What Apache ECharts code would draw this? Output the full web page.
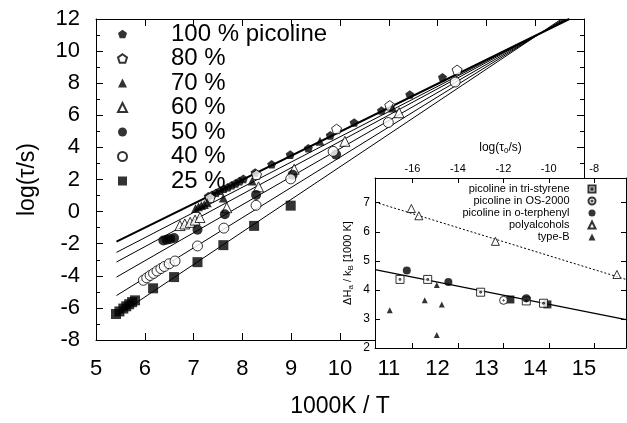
<!DOCTYPE html>
<html><head><meta charset="utf-8">
<script src="https://cdn.jsdelivr.net/npm/echarts@6/dist/echarts.min.js"></script>
<style>html,body{margin:0;padding:0;background:#fff}#c{width:627px;height:423px}</style>
</head><body><div id="c"></div>
<script>
const FONT = 'Liberation Sans, Arial, Helvetica, sans-serif';

// ---------- main plot data: [1000K/T, log(tau/s)] ----------
const seriesNames = ['100 % picoline', '80 %', '70 %', '60 %', '50 %', '40 %', '25 %'];
const pic100 = [[7.30,0.95],[7.38,1.05],[7.46,1.17],[7.54,1.30],[7.62,1.42],[7.70,1.52],[7.78,1.64],[7.86,1.76],[7.94,1.90],[8.02,2.04],[8.26,2.44],[8.60,2.95],[8.98,3.55],[9.35,3.95],[9.80,4.75],[10.29,5.55],[10.85,6.30],[11.43,7.30],[12.10,8.37]];
const pic80 = [[7.34,0.87],[8.29,2.30],[9.93,5.15],[11.02,6.62],[12.40,8.83]];
const pic70 = [[7.04,0.20],[7.10,0.30],[7.16,0.38],[7.22,0.45],[7.28,0.55],[7.61,0.85],[8.20,1.90],[9.59,4.38],[11.08,6.46]];
const pic60 = [[6.72,-0.87],[6.82,-0.77],[6.93,-0.67],[7.03,-0.53],[7.13,-0.37],[7.68,0.24],[8.33,1.54],[9.06,2.64],[10.10,4.38],[11.21,6.16]];
const pic50 = [[6.38,-1.80],[6.45,-1.75],[6.52,-1.70],[6.60,-1.65],[7.08,-1.13],[7.64,-0.17],[8.28,1.04],[9.03,2.30],[9.92,3.55]];
const pic40 = [[5.97,-4.28],[6.04,-4.13],[6.11,-3.98],[6.18,-3.85],[6.25,-3.70],[6.33,-3.55],[6.40,-3.42],[6.50,-3.25],[6.62,-3.08],[7.08,-2.14],[7.62,-1.03],[8.28,0.39],[8.99,2.04],[9.86,3.75],[10.99,5.55],[12.36,8.07]];
const pic25 = [[5.41,-6.38],[5.48,-6.22],[5.56,-6.04],[5.62,-5.90],[5.68,-5.77],[5.74,-5.64],[5.80,-5.53],[6.17,-4.78],[6.60,-4.08],[7.08,-3.15],[7.61,-2.09],[8.24,-0.89],[8.99,0.37]];

// fit lines (end points)
const fit100 = [[5.42,-1.87],[14.70,12]];
const fit70 = [[5.42,-2.54],[14.67,12]];
const fit60 = [[5.42,-3.14],[14.65,12]];
const fit50 = [[5.42,-4.08],[14.62,12]];
const fit40 = [[5.42,-5.23],[14.58,12]];
const fit25 = [[5.42,-6.50],[14.54,12]];

// ---------- inset data: [log(tau0/s), dHa/kB (1000 K)] ----------
const insetNames = ['picoline in tri-styrene', 'picoline in OS-2000', 'picoline in o-terphenyl', 'polyalcohols', 'type-B'];
const triStyrene = [[-16.55,4.36],[-15.33,4.36],[-13.0,3.92],[-10.99,3.62],[-10.23,3.54]];
const os2000 = [[-11.99,3.64]];
const oTerphenyl = [[-16.25,4.67],[-14.42,4.27],[-10.99,3.71]];
const polyalcohols = [[-16.05,6.80],[-15.72,6.55],[-12.35,5.67],[-7.0,4.53]];
const typeB = [[-17.0,3.30],[-15.46,3.64],[-14.93,4.17],[-14.71,3.50],[-14.93,2.45]];
const extraSquares = [[-11.69,3.67],[-10.06,3.50]];
const insetSolidFit = [[-17.65,4.70],[-6.6,2.98]];
const insetDashFit = [[-17.65,7.02],[-6.6,4.36]];
const insetXTicks = [-16,-14,-12,-10,-8];
const insetYTicks = [2,3,4,5,6,7];

const PENT = 'path://M0,-1L0.951,-0.309L0.588,0.809L-0.588,0.809L-0.951,-0.309Z';
const SQDOT = 'path://M0,0L10,0L10,10L0,10Z M4,4L6,4L6,6L4,6Z';
const CIRDOT = 'path://M0,5A5,5,0,1,1,10,5A5,5,0,1,1,0,5Z M4.2,5A0.8,0.8,0,1,1,5.8,5A0.8,0.8,0,1,1,4.2,5Z';

const filled = {color:'#000'};
const open = {color:'#fff', borderColor:'#000', borderWidth:1};

function sc(name, data, symbol, size, style, xi, yi, z) {
  return {type:'scatter', name, data, symbol, symbolSize:size, itemStyle:style, symbolKeepAspect:true,
    xAxisIndex:xi, yAxisIndex:yi, z:z, silent:true, animation:false};
}
function ln(data, width, type, xi, yi, z) {
  return {type:'line', data, symbol:'none', lineStyle:{color:'#000', width, type},
    xAxisIndex:xi, yAxisIndex:yi, z:z, silent:true, animation:false, clip:true};
}

const axisCommon = {
  axisLine:{show:true, onZero:false, lineStyle:{color:'#000', width:1}},
  splitLine:{show:false}
};

const chart = echarts.init(document.getElementById('c'));
chart.setOption({
  animation:false,
  textStyle:{fontFamily:FONT},
  grid:[
    {left:96, top:19, right:43, bottom:71},
    {left:375, top:178, right:1, bottom:75, show:true, backgroundColor:'#fff', borderWidth:0, z:10}
  ],
  xAxis:[
    Object.assign({type:'value', gridIndex:0, position:'bottom', min:5, max:15, interval:1,
      name:'1000K / T', nameLocation:'middle', nameGap:55,
      nameTextStyle:{fontSize:23, color:'#000', fontFamily:FONT},
      axisTick:{show:true, inside:true, length:7, lineStyle:{color:'#000'}},
      axisLabel:{fontSize:22, color:'#000', margin:18, fontFamily:FONT}}, axisCommon),
    Object.assign({type:'value', gridIndex:0, position:'top', min:5, max:15, interval:1,
      axisTick:{show:true, inside:true, length:7, lineStyle:{color:'#000'}},
      axisLabel:{show:false}}, axisCommon),
    Object.assign({type:'value', gridIndex:1, position:'top', min:-17.65, max:-6.6, z:11,
      name:'{a|log(τ}{s|0}{a|/s)}', nameLocation:'middle', nameGap:23,
      nameTextStyle:{color:'#000', rich:{a:{fontSize:12, fontFamily:FONT, color:'#000'}, s:{fontSize:8, fontFamily:FONT, color:'#000', padding:[7,0,0,0]}}},
      axisTick:{show:true, inside:true, length:5, customValues:insetXTicks, lineStyle:{color:'#000'}},
      axisLabel:{fontSize:11, color:'#000', margin:4, customValues:insetXTicks, fontFamily:FONT}}, axisCommon),
    Object.assign({type:'value', gridIndex:1, position:'bottom', min:-17.65, max:-6.6, z:11,
      axisTick:{show:true, inside:true, length:5, customValues:insetXTicks, lineStyle:{color:'#000'}},
      axisLabel:{show:false}}, axisCommon)
  ],
  yAxis:[
    Object.assign({type:'value', gridIndex:0, position:'left', min:-8, max:12, interval:2,
      name:'log(τ/s)', nameLocation:'middle', nameGap:57, nameRotate:90,
      nameTextStyle:{fontSize:23, color:'#000', fontFamily:FONT},
      axisTick:{show:true, inside:true, length:7, lineStyle:{color:'#000'}},
      minorTick:{show:true, splitNumber:2, length:4, lineStyle:{color:'#000'}},
      axisLabel:{fontSize:22, color:'#000', margin:16, fontFamily:FONT}}, axisCommon),
    Object.assign({type:'value', gridIndex:0, position:'right', min:-8, max:12, interval:2,
      axisTick:{show:true, inside:true, length:7, lineStyle:{color:'#000'}},
      minorTick:{show:true, splitNumber:2, length:4, lineStyle:{color:'#000'}},
      axisLabel:{show:false}}, axisCommon),
    Object.assign({type:'value', gridIndex:1, position:'left', min:2, max:7.85, z:11,
      name:'{a|ΔH}{s|a}{a| / k}{s|B}{a| [1000 K]}', nameLocation:'middle', nameGap:20, nameRotate:90,
      nameTextStyle:{color:'#000', rich:{a:{fontSize:11, fontFamily:FONT, color:'#000'}, s:{fontSize:8, fontFamily:FONT, color:'#000', padding:[6,0,0,0]}}},
      axisTick:{show:true, inside:true, length:5, customValues:insetYTicks, lineStyle:{color:'#000'}},
      axisLabel:{fontSize:12, color:'#000', margin:5, customValues:insetYTicks, fontFamily:FONT}}, axisCommon),
    Object.assign({type:'value', gridIndex:1, position:'right', min:2, max:7.85, z:11,
      axisTick:{show:true, inside:true, length:5, customValues:insetYTicks, lineStyle:{color:'#000'}},
      axisLabel:{show:false}}, axisCommon)
  ],
  legend:[
    {data:seriesNames, orient:'vertical', left:112, top:17, itemWidth:9, itemHeight:9, itemGap:0.5,
      symbolKeepAspect:true, selectedMode:false, z:20,
      textStyle:{fontSize:24, lineHeight:22, color:'#000', fontFamily:FONT, padding:[0,0,0,39]}},
    {data:insetNames, orient:'vertical', right:25.5, top:178, align:'right', itemWidth:7, itemHeight:7, itemGap:0,
      symbolKeepAspect:true, selectedMode:false, z:20,
      textStyle:{fontSize:11, lineHeight:12, color:'#000', fontFamily:FONT, padding:[0,14,0,0]}}
  ],
  series:[
    ln(fit100, 2, 'solid', 0, 0, 2),
    ln(fit70, 1, 'solid', 0, 0, 2),
    ln(fit60, 1, 'solid', 0, 0, 2),
    ln(fit50, 1, 'solid', 0, 0, 2),
    ln(fit40, 1, 'solid', 0, 0, 2),
    ln(fit25, 1, 'solid', 0, 0, 2),
    sc(seriesNames[0], pic100, PENT, 9, filled, 0, 0, 3),
    sc(seriesNames[1], pic80, PENT, 10, open, 0, 0, 3),
    sc(seriesNames[2], pic70, 'triangle', 9, filled, 0, 0, 3),
    sc(seriesNames[3], pic60, 'triangle', 10, open, 0, 0, 3),
    sc(seriesNames[4], pic50, 'circle', 10, filled, 0, 0, 3),
    sc(seriesNames[5], pic40, 'circle', 10, open, 0, 0, 3),
    sc(seriesNames[6], pic25, 'rect', 10, filled, 0, 0, 3),
    ln(insetSolidFit, 1.3, 'solid', 2, 2, 12),
    ln(insetDashFit, 1, [2,2], 2, 2, 12),
    sc('', extraSquares, 'rect', 8, filled, 2, 2, 13),
    sc(insetNames[0], triStyrene, SQDOT, 8, open, 2, 2, 13),
    sc(insetNames[1], os2000, CIRDOT, 8, open, 2, 2, 13),
    sc(insetNames[2], oTerphenyl, 'circle', 8, filled, 2, 2, 13),
    sc(insetNames[3], polyalcohols, 'triangle', 8, open, 2, 2, 13),
    sc(insetNames[4], typeB, 'triangle', 6, filled, 2, 2, 13)
  ]
});
</script>
</body></html>
